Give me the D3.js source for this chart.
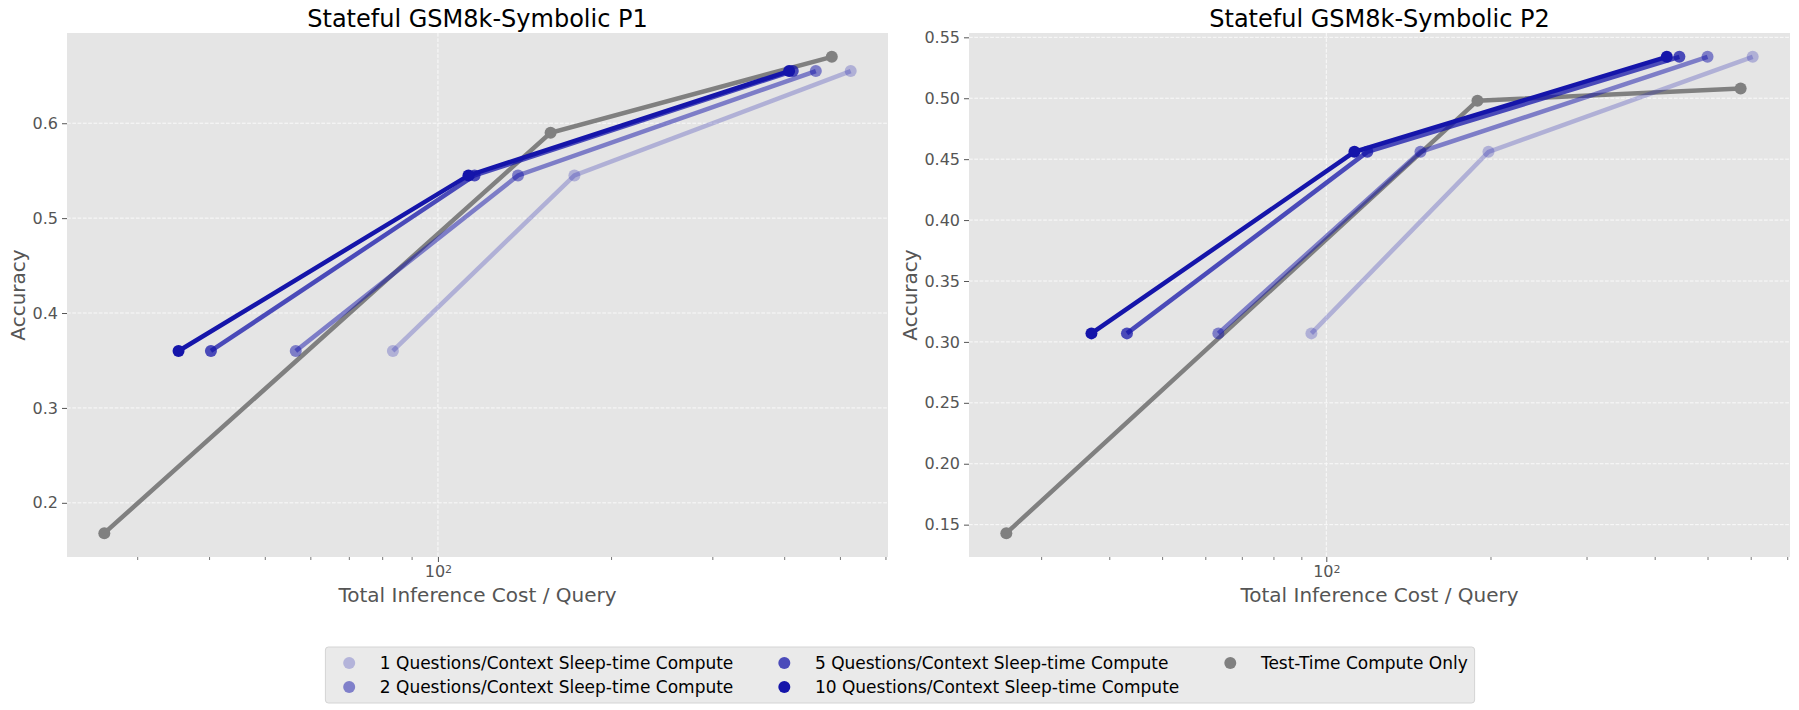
<!DOCTYPE html>
<html>
<head>
<meta charset="utf-8">
<script src="https://cdn.jsdelivr.net/npm/d3@7"></script>
<style>
  body { margin: 0; background: #fff; }
  text { font-family: "DejaVu Sans", sans-serif; }
</style>
</head>
<body>
<svg id="chart" width="1799" height="710"></svg>
<script>
// series names, in legend order
var seriesLabels = [
  "1 Questions/Context Sleep-time Compute",
  "2 Questions/Context Sleep-time Compute",
  "5 Questions/Context Sleep-time Compute",
  "10 Questions/Context Sleep-time Compute",
  "Test-Time Compute Only"
];
var panelTitles = ["Stateful GSM8k-Symbolic P1", "Stateful GSM8k-Symbolic P2"];

// P1 : cost per query and accuracy, one row per series
var p1Cost = [
  [83.5, 172.7, 522],
  [56.6, 137.8, 454],
  [40.3, 115.8, 414],
  [35.4, 113.0, 408],
  [26.3, 157.0, 484]
];
var p1Acc = [
  [0.36, 0.545, 0.655],
  [0.36, 0.545, 0.655],
  [0.36, 0.545, 0.655],
  [0.36, 0.545, 0.655],
  [0.168, 0.59, 0.67]
];

// P2
var p2Cost = [
  [93.9, 198.3, 605],
  [63.4, 148.8, 500],
  [43.1, 118.9, 444],
  [37.1, 112.6, 421],
  [25.9, 189.3, 575]
];
var p2Acc = [
  [0.307, 0.456, 0.534],
  [0.307, 0.456, 0.534],
  [0.307, 0.456, 0.534],
  [0.307, 0.456, 0.534],
  [0.143, 0.498, 0.508]
];

var yTicks1 = [0.2, 0.3, 0.4, 0.5, 0.6];
var yTicks2 = [0.15, 0.20, 0.25, 0.30, 0.35, 0.40, 0.45, 0.50, 0.55];
var xMajor = [100];

// look
var blue = "#1515aa";
var seriesColor = [blue, blue, blue, blue, "#808080"];
var seriesAlpha = [0.25, 0.5, 0.75, 1, 1];
var drawOrder = [4, 0, 1, 2, 3];
var bgColor = "#e5e5e5";
var inkColor = "#555555";

var svg = d3.select("#chart");
var plotTop = 33, plotBottom = 557;

var panels = [
  {title: panelTitles[0], cost: p1Cost, acc: p1Acc, yTicks: yTicks1, fmt: d3.format(".1f"), x0: 67, x1: 888, labelX: 25},
  {title: panelTitles[1], cost: p2Cost, acc: p2Acc, yTicks: yTicks2, fmt: d3.format(".2f"), x0: 969, x1: 1790, labelX: 917}
];

// matplotlib style 5% margins
function padLog(vals) {
  var e = d3.extent(vals);
  var a = Math.log10(e[0]), b = Math.log10(e[1]), m = (b - a) * 0.05;
  return [Math.pow(10, a - m), Math.pow(10, b + m)];
}
function padLin(vals) {
  var e = d3.extent(vals);
  var m = (e[1] - e[0]) * 0.05;
  return [e[0] - m, e[1] + m];
}

panels.forEach(function(p) {
  var x = d3.scaleLog().domain(padLog(d3.merge(p.cost))).range([p.x0, p.x1]);
  var y = d3.scaleLinear().domain(padLin(d3.merge(p.acc))).range([plotBottom, plotTop]);

  var g = svg.append("g");

  g.append("rect")
    .attr("x", p.x0).attr("y", plotTop)
    .attr("width", p.x1 - p.x0).attr("height", plotBottom - plotTop)
    .attr("fill", bgColor);

  // grid
  g.append("g").selectAll("line").data(p.yTicks).enter().append("line")
    .attr("x1", p.x0).attr("x2", p.x1)
    .attr("y1", function(d) { return y(d); }).attr("y2", function(d) { return y(d); })
    .attr("stroke", "#fafafa").attr("stroke-width", 1).attr("stroke-dasharray", "3.7,1.6");
  g.append("g").selectAll("line").data(xMajor).enter().append("line")
    .attr("y1", plotTop).attr("y2", plotBottom)
    .attr("x1", function(d) { return x(d); }).attr("x2", function(d) { return x(d); })
    .attr("stroke", "#fafafa").attr("stroke-width", 1).attr("stroke-dasharray", "3.7,1.6");

  // y axis
  var ya = g.append("g").attr("transform", "translate(" + p.x0 + ",0)")
    .call(d3.axisLeft(y).tickValues(p.yTicks).tickSize(5).tickPadding(4).tickFormat(p.fmt));
  ya.select(".domain").remove();
  ya.selectAll("line").attr("stroke", inkColor);
  ya.selectAll("text").attr("fill", inkColor).attr("font-size", "16px")
    .attr("font-family", "DejaVu Sans");

  // x axis : minor ticks then the decade labels
  var minor = x.ticks().filter(function(d) {
    var l = Math.log10(d); return Math.abs(l - Math.round(l)) > 1e-6;
  });
  var xm = g.append("g").attr("transform", "translate(0," + plotBottom + ")")
    .call(d3.axisBottom(x).tickValues(minor).tickSize(3).tickFormat(""));
  xm.select(".domain").remove();
  xm.selectAll("line").attr("stroke", inkColor).attr("stroke-width", 0.8);

  var xa = g.append("g").attr("transform", "translate(0," + plotBottom + ")")
    .call(d3.axisBottom(x).tickValues(xMajor).tickSize(5).tickPadding(4).tickFormat(""));
  xa.select(".domain").remove();
  xa.selectAll("line").attr("stroke", inkColor);
  xa.selectAll(".tick text").each(function(d) {
    var t = d3.select(this).attr("fill", inkColor).attr("font-size", "16px")
      .attr("font-family", "DejaVu Sans").text("10");
    t.append("tspan").attr("dy", "-0.42em").attr("font-size", "11px")
      .text(Math.round(Math.log10(d)));
  });

  // series
  var line = d3.line()
    .x(function(d) { return x(d[0]); })
    .y(function(d) { return y(d[1]); });

  drawOrder.forEach(function(i) {
    var pts = d3.zip(p.cost[i], p.acc[i]);
    g.append("path").datum(pts)
      .attr("d", line)
      .attr("fill", "none")
      .attr("stroke", seriesColor[i])
      .attr("stroke-opacity", seriesAlpha[i])
      .attr("stroke-width", 4.5);
    g.append("g").selectAll("circle").data(pts).enter().append("circle")
      .attr("cx", function(d) { return x(d[0]); })
      .attr("cy", function(d) { return y(d[1]); })
      .attr("r", 6)
      .attr("fill", seriesColor[i])
      .attr("fill-opacity", seriesAlpha[i]);
  });

  // labels
  var cx = (p.x0 + p.x1) / 2;
  g.append("text").attr("x", cx).attr("y", 27).attr("text-anchor", "middle")
    .attr("font-size", "24px").attr("fill", "#000").text(p.title);
  g.append("text").attr("x", cx).attr("y", 602).attr("text-anchor", "middle")
    .attr("font-size", "20px").attr("fill", inkColor).text("Total Inference Cost / Query");
  g.append("text")
    .attr("transform", "translate(" + p.labelX + "," + ((plotTop + plotBottom) / 2) + ") rotate(-90)")
    .attr("text-anchor", "middle").attr("font-size", "20px").attr("fill", inkColor)
    .text("Accuracy");
});

// legend, 3 columns filled top to bottom
var fs = 17;
var cols = [[0, 1], [2, 3], [4]];
var rowY = [663, 687];
var leg = svg.append("g");
var frame = leg.append("rect");
var colX = 0;
cols.forEach(function(c) {
  var widest = 0;
  c.forEach(function(i, r) {
    var t = leg.append("text").attr("x", colX + 2 * fs + 0.8 * fs).attr("y", rowY[r])
      .attr("dy", "0.36em").attr("font-size", fs + "px").attr("fill", "#000")
      .text(seriesLabels[i]);
    widest = Math.max(widest, t.node().getComputedTextLength());
    leg.append("circle").attr("cx", colX + fs).attr("cy", rowY[r]).attr("r", 6)
      .attr("fill", seriesColor[i]).attr("fill-opacity", seriesAlpha[i]);
  });
  colX += 2 * fs + 0.8 * fs + widest + 2 * fs;
});
var legW = colX - 2 * fs + 0.8 * fs;
var legX = 900 - legW / 2;
leg.attr("transform", "translate(" + (legX + 0.4 * fs) + ",0)");
frame.attr("x", -0.4 * fs).attr("y", 647).attr("width", legW).attr("height", 56)
  .attr("rx", 3).attr("fill", "#eaeaea").attr("stroke", "#d4d4d4").attr("stroke-width", 1);
</script>
</body>
</html>
